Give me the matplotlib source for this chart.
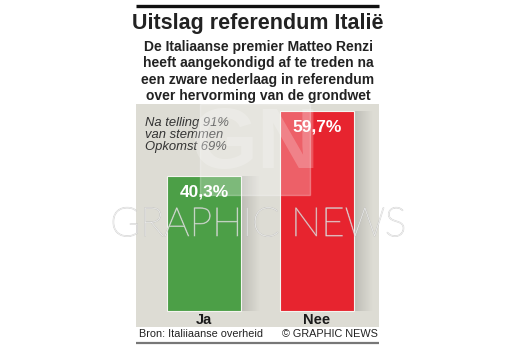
import matplotlib

matplotlib.use("Agg")
import matplotlib.pyplot as plt
import matplotlib.patheffects as pe
import numpy as np

# Data
categories = ["Ja", "Nee"]
values = [40.3, 59.7]
value_labels = ["40,3%", "59,7%"]
title = "Uitslag referendum Italië"
subtitle = ("De Italiaanse premier Matteo Renzi\n"
            "heeft aangekondigd af te treden na\n"
            "een zware nederlaag in referendum\n"
            "over hervorming van de grondwet")
note = "Na telling 91%\nvan stemmen\nOpkomst 69%"
source = "Bron: Italiiaanse overheid"
credit = "© GRAPHIC NEWS"

# Palette
PANEL = "#dddcd4"
GREEN = "#4c9f47"
RED = "#e7242f"
BAR_COLORS = [GREEN, RED]
INK = "#1a1a1a"
SANS = ["Liberation Sans", "DejaVu Sans"]

W, H = 515, 348
fig = plt.figure(figsize=(W / 100, H / 100), dpi=100)
fig.patch.set_facecolor("white")


def px(x0, y0, x1, y1):
    """pixel box (top-left origin) -> figure fraction rect"""
    return [x0 / W, 1 - y1 / H, (x1 - x0) / W, (y1 - y0) / H]


# --- header / footer ----------------------------------------------------
bg = fig.add_axes([0, 0, 1, 1])
bg.set_xlim(0, W)
bg.set_ylim(H, 0)
bg.axis("off")
bg.plot([136, 379], [6, 6], color="#111111", lw=2.4, solid_capstyle="butt")
bg.text(258, 23, title, ha="center", va="center", fontsize=15.5,
        fontweight="bold", color="#222222", family=SANS)
bg.text(258, 71.5, subtitle, ha="center", va="center", fontsize=10.0,
        fontweight="bold", color="#222222", linespacing=1.22, family=SANS)
bg.text(139, 334, source, ha="left", va="center", fontsize=7.8,
        color="#222222", family=SANS)
bg.text(378, 334, credit, ha="right", va="center", fontsize=7.8,
        color="#222222", family=SANS)
bg.plot([136, 379], [343, 343], color="#777777", lw=1.6, solid_capstyle="butt")

# --- bar panel -----------------------------------------------------------
ax = fig.add_axes(px(136, 104, 379, 327))
ax.set_facecolor(PANEL)
ax.set_xlim(-0.602, 1.549)
ax.set_ylim(-4.8, 61.8)
ax.set_xticks([])
ax.set_yticks([])
for s in ax.spines.values():
    s.set_visible(False)

xs = np.arange(len(categories))
bw = 0.655

# soft shadow to the right of each bar
grad = np.linspace(0, 1, 64).reshape(1, -1)
shadow_cmap = matplotlib.colors.LinearSegmentedColormap.from_list(
    "sh", ["#bdbcb5", PANEL])
for x, v in zip(xs, values):
    ax.imshow(grad, cmap=shadow_cmap, aspect="auto", zorder=1,
              extent=[x + bw / 2, x + bw / 2 + 0.16, 0, v])

ax.bar(xs, values, width=bw, color=BAR_COLORS, edgecolor="#f4f4f0",
       linewidth=0.8, zorder=2)

for x, v, lab in zip(xs, values, value_labels):
    ax.text(x, v - 4.9, lab, ha="center", va="center", color="white",
            fontsize=12.5, fontweight="bold", zorder=4, family=SANS)
for x, c in zip(xs, categories):
    ax.text(x, -2.6, c, ha="center", va="center", color=INK,
            fontsize=10.5, fontweight="bold", zorder=4, family=SANS)

ax.text(-0.52, 57.8, note, ha="left", va="top", color="#333333",
        fontsize=9.4, style="italic", linespacing=1.0, zorder=4, family=SANS)

# --- watermark over everything ---------------------------------------------
fig.patches.append(plt.Rectangle((200 / W, 1 - 195 / H), 110 / W, 91 / H,
                                 transform=fig.transFigure, color="white",
                                 alpha=0.28, zorder=9))
fig.text(255 / W, 1 - 146 / H, "GN", ha="center", va="center", fontsize=62,
         color="white", alpha=0.22, zorder=10, fontweight="bold",
         family=SANS)
fig.text(258 / W, 1 - 225 / H, "GRAPHIC NEWS", ha="center", va="center",
         fontsize=29, color="white", alpha=0.5, zorder=10,
         fontweight="light", family=["Lato", "DejaVu Sans"],
         path_effects=[pe.withStroke(linewidth=0.9, foreground="#bdbdbd"),
                       pe.Normal()])

fig.savefig("out.png", dpi=100, facecolor="white")
